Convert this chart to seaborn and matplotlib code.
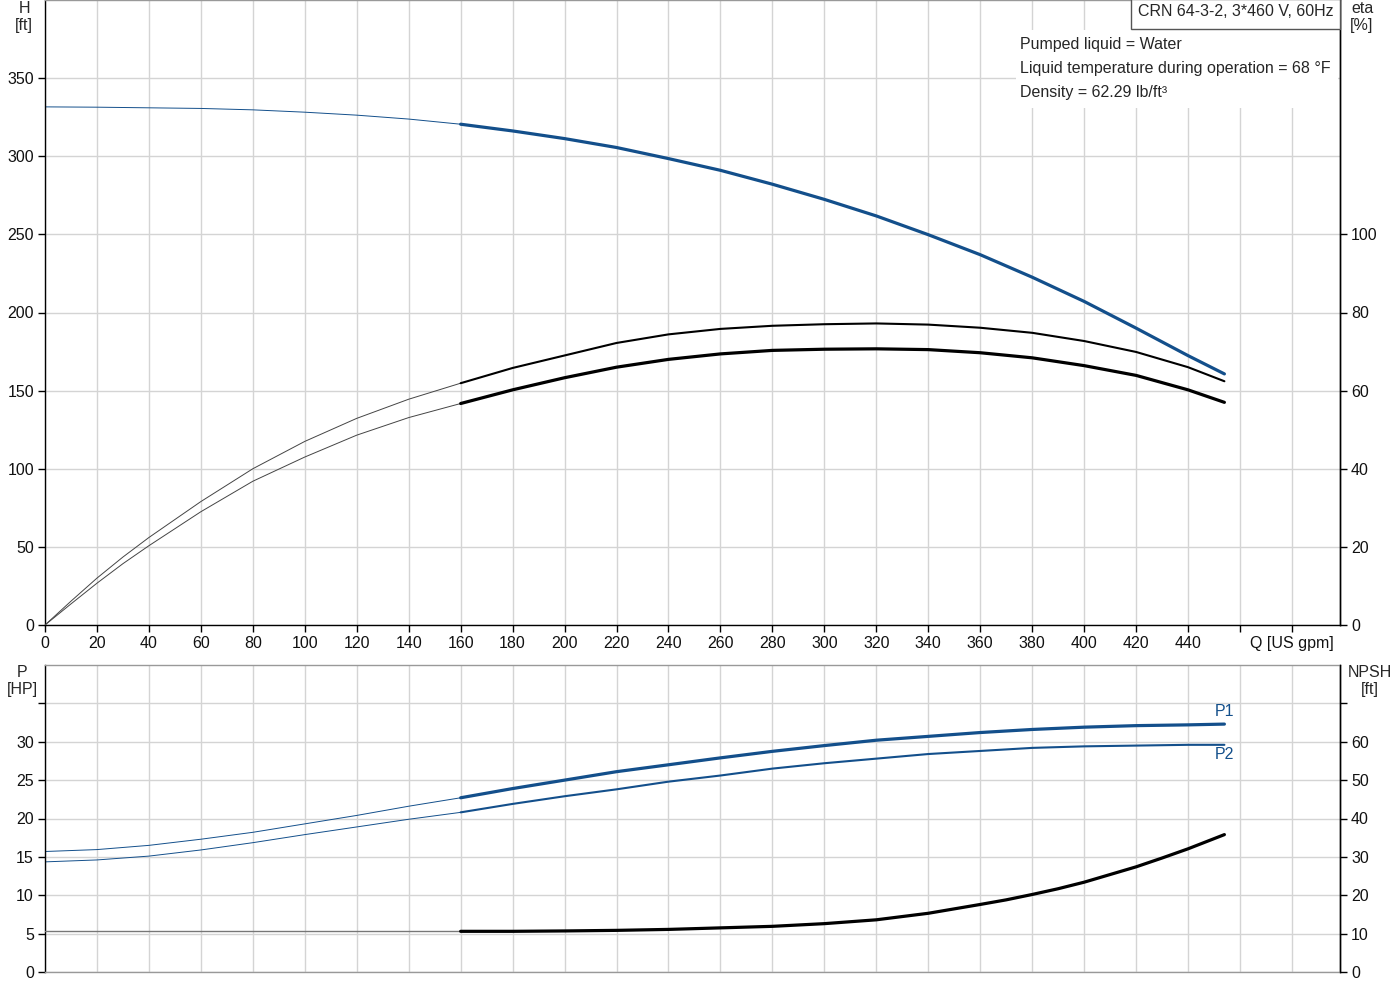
import matplotlib
matplotlib.use("Agg")
import matplotlib.pyplot as plt
from matplotlib.patches import Rectangle
import seaborn as sns

# ---------------- data ----------------
q_lo = [0, 20, 40, 60, 80, 100, 120, 140, 160]
q_hi = [160, 180, 200, 220, 240, 260, 280, 300, 320, 340, 360, 380, 400, 420, 440, 454]
q_eta_lo = [0, 10, 20, 30, 40, 60, 80, 100, 120, 140, 160]
q_npsh_hi = [160, 180, 200, 220, 240, 260, 280, 300, 320, 340, 360, 370, 380, 390,
             400, 410, 420, 430, 440, 454]

h_lo = [331.6, 331.4, 331.0, 330.6, 329.7, 328.2, 326.3, 323.8, 320.5]
h_hi = [320.5, 316.2, 311.3, 305.6, 298.5, 291.0, 282.1, 272.4, 261.8, 249.8,
        237.0, 222.6, 207.1, 190.0, 172.4, 160.7]

eta_pump_lo = [0, 6.1, 12.0, 17.4, 22.4, 31.6, 40.0, 47.0, 52.9, 57.8, 61.9]
eta_pump_hi = [61.9, 65.8, 69.0, 72.2, 74.4, 75.8, 76.6, 77.0, 77.2, 76.9,
               76.1, 74.8, 72.7, 69.9, 66.0, 62.4]
eta_tot_lo = [0, 5.4, 10.7, 15.7, 20.3, 29.0, 36.8, 43.0, 48.6, 53.1, 56.7]
eta_tot_hi = [56.7, 60.2, 63.3, 66.0, 68.0, 69.4, 70.3, 70.6, 70.7, 70.5,
              69.7, 68.4, 66.4, 63.9, 60.2, 57.0]

p1_lo = [15.7, 15.95, 16.5, 17.3, 18.2, 19.3, 20.4, 21.6, 22.7]
p1_hi = [22.7, 23.9, 25.0, 26.1, 27.0, 27.9, 28.75, 29.5, 30.2, 30.7,
         31.2, 31.6, 31.9, 32.1, 32.2, 32.3]
p2_lo = [14.35, 14.6, 15.1, 15.9, 16.85, 17.9, 18.9, 19.9, 20.8]
p2_hi = [20.8, 21.9, 22.9, 23.8, 24.8, 25.6, 26.5, 27.2, 27.8, 28.4,
         28.8, 29.2, 29.4, 29.5, 29.6, 29.6]

npsh_lo = [10.6, 10.6, 10.6, 10.6, 10.6, 10.6, 10.6, 10.6, 10.6]
npsh_hi = [10.6, 10.6, 10.7, 10.85, 11.1, 11.5, 11.9, 12.6, 13.6, 15.3,
           17.6, 18.8, 20.2, 21.7, 23.4, 25.4, 27.4, 29.7, 32.1, 35.8]

x_ticks = [0, 20, 40, 60, 80, 100, 120, 140, 160, 180, 200, 220, 240, 260,
           280, 300, 320, 340, 360, 380, 400, 420, 440, 460, 480]
x_labels = [str(v) for v in x_ticks[:-2]] + ["", "Q [US gpm]"]
h_ticks = [0, 50, 100, 150, 200, 250, 300, 350]
eta_ticks = [0, 20, 40, 60, 80, 100]
p_ticks = [0, 5, 10, 15, 20, 25, 30, 35]
p_labels = ["0", "5", "10", "15", "20", "25", "30", ""]
npsh_ticks = [0, 10, 20, 30, 40, 50, 60, 70]
npsh_labels = ["0", "10", "20", "30", "40", "50", "60", ""]

title_text = "CRN 64-3-2, 3*460 V, 60Hz"
info_lines = ["Pumped liquid = Water",
              "Liquid temperature during operation = 68 \u00b0F",
              "Density = 62.29 lb/ft\u00b3"]

# ---------------- style ----------------
sns.set_style("ticks")
plt.rcParams['font.family'] = ['Liberation Sans', 'DejaVu Sans']
FS = 11.5
plt.rcParams['font.size'] = FS

BLUE = "#134f8b"
GRID = "#d4d4d4"

W, H = 1400, 1000
fig = plt.figure(figsize=(14, 10), dpi=100)
ax1 = fig.add_axes([45 / W, 1 - 625 / H, 1295 / W, 625 / H])
ax2 = fig.add_axes([45 / W, 1 - 972 / H, 1295 / W, 307 / H])
XMAX = 498.5

def style_main(ax, ylim, yticks, ylabels):
    ax.set_xlim(0, XMAX)
    ax.set_ylim(*ylim)
    ax.set_xticks(x_ticks)
    ax.set_yticks(yticks)
    ax.set_yticklabels(ylabels)
    ax.grid(True, color=GRID, linewidth=1)
    ax.set_axisbelow(True)
    ax.tick_params(direction="out", length=5, width=1, color="black",
                   labelsize=FS, pad=3, labelcolor="#111111")
    for s in ax.spines.values():
        s.set_linewidth(1)

def style_twin(ax, ylim, ticks, labels):
    ax.set_ylim(*ylim)
    ax.set_yticks(ticks)
    ax.set_yticklabels(labels)
    ax.tick_params(direction="out", length=5, width=1, color="black",
                   labelsize=FS, pad=3, labelcolor="#111111")
    for k, s in ax.spines.items():
        s.set_visible(k == "right")
    ax.spines["right"].set_color("black")
    ax.spines["right"].set_linewidth(1)

# ---- top axes
style_main(ax1, (0, 400), h_ticks, [str(v) for v in h_ticks])
ax1.set_xticklabels(x_labels)
for k in ("left", "bottom", "right"):
    ax1.spines[k].set_color("black")
ax1.spines["top"].set_color("#999999")

sns.lineplot(x=q_lo, y=h_lo, ax=ax1, color=BLUE, linewidth=0.7)
sns.lineplot(x=q_hi, y=h_hi, ax=ax1, color=BLUE, linewidth=2.3)

ax1e = ax1.twinx()
style_twin(ax1e, (0, 160), eta_ticks, [str(v) for v in eta_ticks])
sns.lineplot(x=q_eta_lo, y=eta_pump_lo, ax=ax1e, color="#444444", linewidth=0.7)
sns.lineplot(x=q_hi, y=eta_pump_hi, ax=ax1e, color="black", linewidth=1.5)
sns.lineplot(x=q_eta_lo, y=eta_tot_lo, ax=ax1e, color="#444444", linewidth=0.7)
sns.lineplot(x=q_hi, y=eta_tot_hi, ax=ax1e, color="black", linewidth=2.3)
ax1e.set_xlim(0, XMAX)
ax1.set_xlabel(""); ax1.set_ylabel(""); ax1e.set_ylabel("")

# ---- bottom axes
style_main(ax2, (0, 40), p_ticks, p_labels)
ax2.tick_params(axis="x", length=0, labelbottom=False)
ax2.spines["left"].set_color("black")
ax2.spines["right"].set_color("black")
ax2.spines["top"].set_color("#999999")
ax2.spines["bottom"].set_color("#999999")

sns.lineplot(x=q_lo, y=p1_lo, ax=ax2, color=BLUE, linewidth=0.7)
sns.lineplot(x=q_hi, y=p1_hi, ax=ax2, color=BLUE, linewidth=2.3)
sns.lineplot(x=q_lo, y=p2_lo, ax=ax2, color=BLUE, linewidth=0.7)
sns.lineplot(x=q_hi, y=p2_hi, ax=ax2, color=BLUE, linewidth=1.5)

ax2n = ax2.twinx()
style_twin(ax2n, (0, 80), npsh_ticks, npsh_labels)
sns.lineplot(x=q_lo, y=npsh_lo, ax=ax2n, color="#777777", linewidth=1.0)
sns.lineplot(x=q_npsh_hi, y=npsh_hi, ax=ax2n, color="black", linewidth=2.3)
ax2n.set_xlim(0, XMAX)
ax2.set_xlabel(""); ax2.set_ylabel(""); ax2n.set_ylabel("")

ax2.text(q_hi[-1], 34.0, "P1", color=BLUE, fontsize=FS, ha="center", va="center")
ax2.text(q_hi[-1], 28.3, "P2", color=BLUE, fontsize=FS, ha="center", va="center")

# ---- axis unit labels
fig.text(24 / W, 1 - 1 / H, "H\n[ft]", ha="center", va="top", fontsize=FS, linespacing=1.15)
fig.text(1362 / W, 1 - 1 / H, "eta\n[%]", ha="center", va="top", fontsize=FS, linespacing=1.15)
fig.text(22 / W, 1 - 665 / H, "P\n[HP]", ha="center", va="top", fontsize=FS, linespacing=1.15)
fig.text(1370 / W, 1 - 665 / H, "NPSH\n[ft]", ha="center", va="top", fontsize=FS, linespacing=1.15)

# ---- info boxes
fig.add_artist(Rectangle((1016 / W, 1 - 108 / H), 322 / W, 78 / H,
                         transform=fig.transFigure, facecolor="white",
                         edgecolor="none", zorder=5))
fig.add_artist(Rectangle((1131 / W, 1 - 29 / H), 209 / W, 30 / H,
                         transform=fig.transFigure, facecolor="white",
                         edgecolor="#555555", linewidth=1, zorder=6))
fig.text(1236 / W, 1 - 12 / H, title_text, ha="center", va="center",
         fontsize=FS, zorder=7)
for i, line in enumerate(info_lines):
    fig.text(1020 / W, 1 - (44 + 24 * i) / H, line, ha="left", va="center",
             fontsize=FS, zorder=7)

fig.savefig("out.png", dpi=100)
